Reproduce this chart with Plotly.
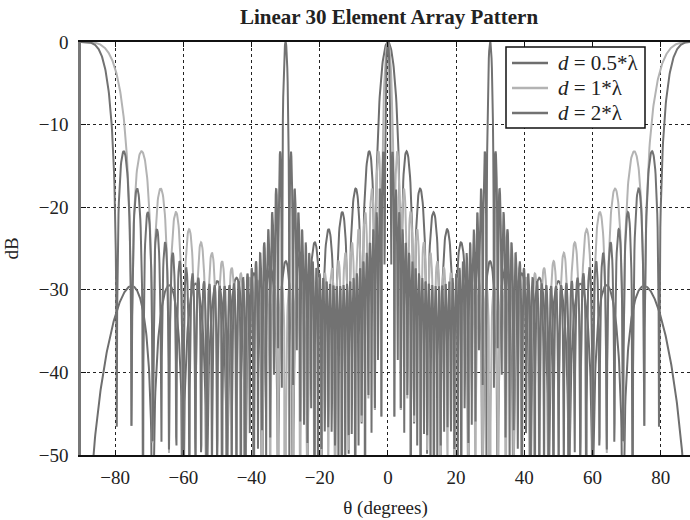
import numpy as np
import plotly.graph_objects as go

# Values: title and legend
n_elements = 30
spacings = [0.5, 1.0, 2.0]                       # element spacing in wavelengths
series_names = ["<i>d</i> = 0.5*λ", "<i>d</i> = 1*λ", "<i>d</i> = 2*λ"]
series_colors = ["#6e6e6e", "#b3b3b3", "#727272"]
x_ticks = [-80, -60, -40, -20, 0, 20, 40, 60, 80]
y_ticks = [0, -10, -20, -30, -40, -50]
theta_deg = np.arange(-90.0, 90.0001, 0.1)

FONT = "Liberation Serif, Times New Roman, serif"
W, H = 690, 520
L, R, T, B = 81, 0, 42, 65
PW, PH = W - L - R, H - T - B


def px(x):
    return (x - L) / PW


def py(y):
    return (H - B - y) / PH


fig = go.Figure()
n = np.arange(n_elements)
for d, name, col in zip(spacings, series_names, series_colors):
    psi = 2 * np.pi * d * np.sin(np.radians(theta_deg))
    af = np.abs(np.exp(1j * np.outer(psi, n)).sum(axis=1)) / n_elements
    db = 20 * np.log10(np.maximum(af, 1e-12))
    fig.add_trace(go.Scatter(x=theta_deg, y=db, mode="lines", name=name,
                             line=dict(color=col, width=2), showlegend=False))

# legend box (drawn in paper space to match the reference's compact layout)
shapes = [dict(type="rect", xref="paper", yref="paper",
               x0=px(506), x1=px(645), y0=py(128), y1=py(47),
               fillcolor="white", line=dict(color="#111", width=1.5), layer="above")]
annotations = []
for i, (name, col) in enumerate(zip(series_names, series_colors)):
    yy = 63 + 25 * i
    shapes.append(dict(type="line", xref="paper", yref="paper",
                       x0=px(512), x1=px(548), y0=py(yy), y1=py(yy),
                       line=dict(color=col, width=2.5), layer="above"))
    annotations.append(dict(text=name, xref="paper", yref="paper",
                            x=px(556), y=py(yy), xanchor="left", yanchor="middle",
                            showarrow=False, font=dict(family=FONT, size=21, color="#222")))

fig.update_layout(
    width=W, height=H,
    margin=dict(l=L, r=R, t=T, b=B),
    paper_bgcolor="white", plot_bgcolor="white",
    font=dict(family=FONT, size=19, color="#222"),
    title=dict(text="<b>Linear 30 Element Array Pattern</b>", x=389 / W, xanchor="center",
               y=1 - 17 / H, yanchor="middle", yref="container",
               font=dict(family=FONT, size=21, color="#222")),
    shapes=shapes, annotations=annotations,
    showlegend=False,
)
fig.update_xaxes(range=[-90, 88.6], tickvals=x_ticks, ticks="inside", ticklen=5,
                 tickcolor="#111", showline=True, linecolor="#111", linewidth=2,
                 mirror="ticks", showgrid=True, gridcolor="#222", griddash="dot",
                 gridwidth=1, zeroline=False,
                 title=dict(text="θ (degrees)", standoff=14, font=dict(size=19)),
                 ticklabelstandoff=4)
fig.update_yaxes(range=[-50, 0], tickvals=y_ticks, ticks="inside", ticklen=5,
                 tickcolor="#111", showline=True, linecolor="#777", linewidth=2.5,
                 mirror=False, showgrid=True, gridcolor="#222", griddash="dot",
                 gridwidth=1, zeroline=False,
                 title=dict(text="dB", standoff=16, font=dict(size=19)),
                 ticklabelstandoff=6)

fig.write_html("out.html")
